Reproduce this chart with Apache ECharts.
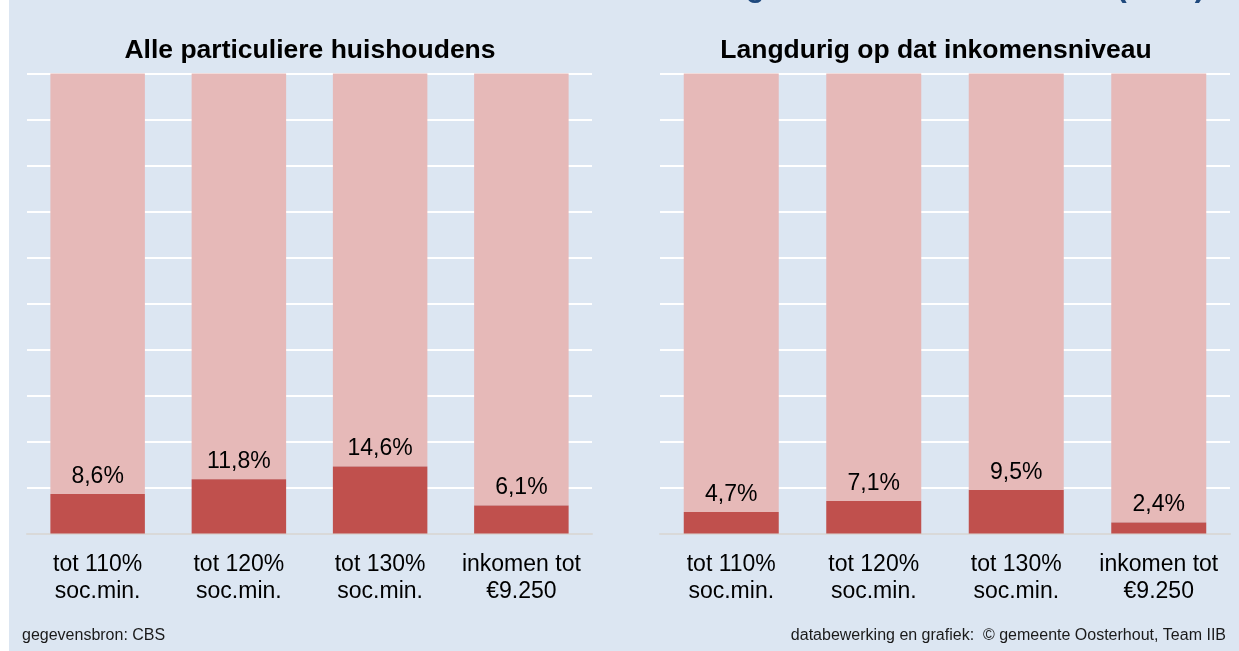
<!DOCTYPE html>
<html>
<head>
<meta charset="utf-8">
<script src="https://cdn.jsdelivr.net/npm/echarts@6/dist/echarts.min.js"></script>
<style>
  html, body { margin: 0; padding: 0; background: #ffffff; }
  #chart { position: absolute; left: 0; top: 0; width: 1239px; height: 651px;
           background: linear-gradient(to right, #ffffff 9px, #dce6f2 9px); }
</style>
</head>
<body>
<div id="chart"></div>
<script>
// ---- data ----
const categories = ['tot 110%\nsoc.min.', 'tot 120%\nsoc.min.', 'tot 130%\nsoc.min.', 'inkomen tot\n€9.250'];
const allHouseholds = [8.6, 11.8, 14.6, 6.1];   // Alle particuliere huishoudens
const longTerm = [4.7, 7.1, 9.5, 2.4];          // Langdurig op dat inkomensniveau
const panelTitles = ['Alle particuliere huishoudens', 'Langdurig op dat inkomensniveau'];
const mainTitle = 'Huishoudens met een laag inkomen in Oosterhout (2019)';
const sourceText = 'gegevensbron: CBS';
const creditText = 'databewerking en grafiek:  \u00A9 gemeente Oosterhout, Team IIB';

// ---- chart ----
const FONT = '"Liberation Sans", Arial, sans-serif';
const DARK = '#c0504d', LIGHT = '#e6b9b8';
const fmt = v => v.toFixed(1).replace('.', ',') + '%';
const rest = arr => arr.map(v => +(100 - v).toFixed(1));

const chart = echarts.init(document.getElementById('chart'), null, { renderer: 'canvas' });

function xAxis(gridIndex) {
  return {
    type: 'category', gridIndex, data: categories,
    axisLine: { show: true, lineStyle: { color: '#d9d9d9', width: 2 } },
    axisTick: { show: false },
    axisLabel: { interval: 0, margin: 18, fontSize: 23, lineHeight: 27, color: '#000', fontFamily: FONT }
  };
}
function yAxis(gridIndex) {
  return {
    type: 'value', gridIndex, min: 0, max: 100, interval: 10,
    axisLine: { show: false }, axisTick: { show: false }, axisLabel: { show: false },
    splitLine: { show: true, lineStyle: { color: '#ffffff', width: 2 } }
  };
}
function seriesPair(idx, values, barWidth) {
  return [
    {
      type: 'bar', xAxisIndex: idx, yAxisIndex: idx, stack: 's' + idx, data: values,
      barWidth, z: 3,
      itemStyle: { color: DARK },
      label: { show: true, position: 'top', distance: 6, fontSize: 23, color: '#000', fontFamily: FONT,
               formatter: p => fmt(p.value) }
    },
    {
      type: 'bar', xAxisIndex: idx, yAxisIndex: idx, stack: 's' + idx, data: rest(values),
      barWidth, z: 2,
      itemStyle: { color: LIGHT }
    }
  ];
}

chart.setOption({
  animation: false,
  backgroundColor: 'transparent',
  textStyle: { fontFamily: FONT },
  grid: [
    { left: 27, top: 73.6, width: 565, height: 460 },
    { left: 660, top: 73.6, width: 570, height: 460 }
  ],
  xAxis: [xAxis(0), xAxis(1)],
  yAxis: [yAxis(0), yAxis(1)],
  series: [...seriesPair(0, allHouseholds, 94.5), ...seriesPair(1, longTerm, 95)],
  graphic: [
    { type: 'text', x: 1205, y: -12.4, style: { text: mainTitle, align: 'right', verticalAlign: 'middle',
      font: 'bold 30.6px ' + FONT, fill: '#1f497d' } },
    { type: 'text', x: 310, y: 51, style: { text: panelTitles[0], align: 'center', verticalAlign: 'middle',
      font: 'bold 26.5px ' + FONT, fill: '#000' } },
    { type: 'text', x: 936, y: 51, style: { text: panelTitles[1], align: 'center', verticalAlign: 'middle',
      font: 'bold 26.5px ' + FONT, fill: '#000' } },
    { type: 'text', x: 22, y: 636, style: { text: sourceText, align: 'left', verticalAlign: 'middle',
      font: '16px ' + FONT, fill: '#1a1a1a' } },
    { type: 'text', x: 1226, y: 636, style: { text: creditText, align: 'right', verticalAlign: 'middle',
      font: '16px ' + FONT, fill: '#1a1a1a' } }
  ]
});
</script>
</body>
</html>
